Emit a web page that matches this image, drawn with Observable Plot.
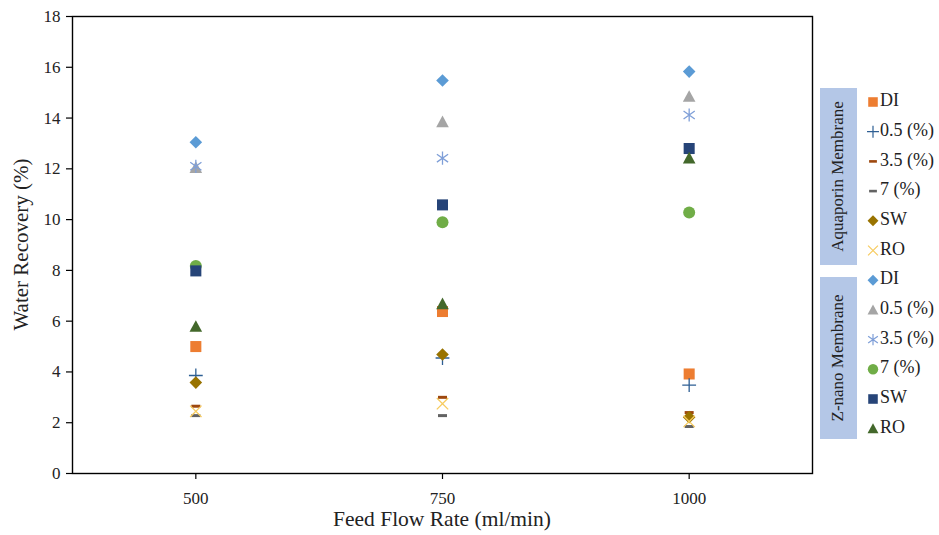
<!DOCTYPE html>
<html>
<head>
<meta charset="utf-8">
<script src="https://cdn.jsdelivr.net/npm/d3@7"></script>
<script src="https://cdn.jsdelivr.net/npm/@observablehq/plot@0.6"></script>
<style>
  html, body { margin: 0; padding: 0; background: #fff; }
  #chart { position: relative; width: 939px; height: 535px; }
  #chart svg text { font-family: 'Liberation Serif', 'Times New Roman', serif !important; }
</style>
</head>
<body>
<div id="chart"></div>
<script>
// ---- Data ----
const flowRates = [500, 750, 1000];
const xTicks = [500, 750, 1000];
const yTicks = [0, 2, 4, 6, 8, 10, 12, 14, 16, 18];

// Aquaporin Membrane
const aqDI  = [5.0, 6.38, 3.92];
const aq05  = [3.86, 4.55, 3.48];
const aq35  = [2.65, 3.0, 2.4];
const aq7   = [2.28, 2.28, 1.85];
const aqSW  = [3.58, 4.69, 2.22];
const aqRO  = [2.45, 2.75, 2.05];
// Z-nano Membrane
const znDI  = [13.05, 15.48, 15.83];
const zn05  = [12.05, 13.85, 14.85];
const zn35  = [12.1, 12.42, 14.12];
const zn7   = [8.17, 9.9, 10.28];
const znSW  = [7.98, 10.58, 12.8];
const znRO  = [5.79, 6.68, 12.42];

const seriesNames = ["DI", "0.5 (%)", "3.5 (%)", "7 (%)", "SW", "RO"];
const groupNames = ["Aquaporin Membrane", "Z-nano Membrane"];

// ---- Custom marker symbols (Excel-like) ----
function mk(fn) { return { draw(c, size) { const r = Math.sqrt(size / Math.PI); fn(c, r); } }; }
const symSquare = mk((c, r) => { const a = r * 0.92; c.moveTo(-a, -a); c.lineTo(a, -a); c.lineTo(a, a); c.lineTo(-a, a); c.closePath(); });
const symDiamond = mk((c, r) => { const a = r * 1.05; c.moveTo(0, -a); c.lineTo(a, 0); c.lineTo(0, a); c.lineTo(-a, 0); c.closePath(); });
const symCircle = mk((c, r) => { c.moveTo(r, 0); c.arc(0, 0, r, 0, 2 * Math.PI); c.closePath(); });
const symTriangle = mk((c, r) => { const a = r * 1.05; c.moveTo(0, -a); c.lineTo(a, a * 0.85); c.lineTo(-a, a * 0.85); c.closePath(); });
const symPlus = mk((c, r) => { const a = r * 1.15; c.moveTo(-a, 0); c.lineTo(a, 0); c.moveTo(0, -a); c.lineTo(0, a); });
const symTimes = mk((c, r) => { const a = r * 0.95; c.moveTo(-a, -a); c.lineTo(a, a); c.moveTo(-a, a); c.lineTo(a, -a); });
const symAsterisk = mk((c, r) => { const a = r * 1.1; c.moveTo(0, -a); c.lineTo(0, a); c.moveTo(-a * 0.85, -a * 0.6); c.lineTo(a * 0.85, a * 0.6); c.moveTo(-a * 0.85, a * 0.6); c.lineTo(a * 0.85, -a * 0.6); });
const symDash = mk((c, r) => { c.moveTo(-r * 0.75, -r * 0.25); c.lineTo(r * 0.75, -r * 0.25); c.lineTo(r * 0.75, r * 0.25); c.lineTo(-r * 0.75, r * 0.25); c.closePath(); });

// series styling (group, name index, values, symbol, color, filled)
const series = [
  { group: 0, name: 0, values: aqDI, symbol: symSquare,   color: "#ED7D31", filled: true },
  { group: 0, name: 1, values: aq05, symbol: symPlus,     color: "#2E5F94", filled: false },
  { group: 0, name: 2, values: aq35, symbol: symDash,     color: "#9E480E", filled: true },
  { group: 0, name: 3, values: aq7,  symbol: symDash,     color: "#636363", filled: true },
  { group: 0, name: 4, values: aqSW, symbol: symDiamond,  color: "#997300", filled: true },
  { group: 0, name: 5, values: aqRO, symbol: symTimes,    color: "#F7CB5E", filled: false },
  { group: 1, name: 0, values: znDI, symbol: symDiamond,  color: "#5B9BD5", filled: true },
  { group: 1, name: 1, values: zn05, symbol: symTriangle, color: "#A5A5A5", filled: true },
  { group: 1, name: 2, values: zn35, symbol: symAsterisk, color: "#7F9FD8", filled: false },
  { group: 1, name: 3, values: zn7,  symbol: symCircle,   color: "#70AD47", filled: true },
  { group: 1, name: 4, values: znSW, symbol: symSquare,   color: "#264478", filled: true },
  { group: 1, name: 5, values: znRO, symbol: symTriangle, color: "#43682B", filled: true }
];

const W = 939, H = 535;
const mL = 72, mR = 127, mT = 16, mB = 62;
const FONT = "'Liberation Serif', 'Times New Roman', serif";

const marks = [
  Plot.frame({ stroke: "#000", strokeWidth: 1.4 }),
  Plot.axisY({ ticks: yTicks, tickSize: 6, tickPadding: 6, label: null, fontSize: 17, fontFamily: FONT, tickFormat: d => String(d), stroke: "#000", color: "#222", strokeWidth: 1.2 }),
  Plot.axisX({ ticks: xTicks, tickSize: 6, tickPadding: 12, label: null, fontSize: 17, fontFamily: FONT, tickFormat: d => String(d), stroke: "#000", color: "#222", strokeWidth: 1.2 })
];
for (const s of series) {
  const rows = flowRates.map((x, i) => ({ x, y: s.values[i] }));
  marks.push(Plot.dot(rows, {
    x: "x", y: "y", r: 6, symbol: s.symbol,
    fill: s.filled ? s.color : "none",
    stroke: s.filled ? "none" : s.color,
    strokeWidth: s.filled ? 0 : 1.3
  }));
}

const svgEl = Plot.plot({
  width: W, height: H,
  marginLeft: mL, marginRight: mR, marginTop: mT, marginBottom: mB,
  style: { fontFamily: FONT, background: "#fff", color: "#222" },
  x: { type: "linear", domain: [375, 1125] },
  y: { domain: [0, 18] },
  marks
});
document.getElementById("chart").appendChild(svgEl);

// ---- Axis titles ----
const svg = d3.select(svgEl);
svg.append("text")
  .attr("transform", `translate(23,${(mT + H - mB) / 2}) rotate(-90)`)
  .attr("text-anchor", "middle").attr("dominant-baseline", "middle")
  .style("font-size", "21px").attr("fill", "#222")
  .text("Water Recovery (%)");
svg.append("text")
  .attr("x", (mL + W - mR) / 2).attr("y", 521)
  .attr("text-anchor", "middle").attr("dominant-baseline", "middle")
  .style("font-size", "21.5px").attr("fill", "#222")
  .text("Feed Flow Rate (ml/min)");

// ---- Legend ----
const leg = svg.append("g").attr("class", "legend");
const rowY0 = 102, rowStep = 29.7;
const boxes = [
  { y0: 88, y1: 265 },
  { y0: 277, y1: 439 }
];
boxes.forEach((b, gi) => {
  leg.append("rect").attr("x", 820).attr("y", b.y0).attr("width", 37).attr("height", b.y1 - b.y0).attr("fill", "#B4C7E7");
  leg.append("text")
    .attr("transform", `translate(839,${(b.y0 + b.y1) / 2}) rotate(-90)`)
    .attr("text-anchor", "middle").attr("dominant-baseline", "middle")
    .style("font-size", "17px").attr("fill", "#222")
    .text(groupNames[gi]);
});
series.forEach((s, i) => {
  const y = rowY0 + i * rowStep;
  const gen = d3.symbol().type(s.symbol).size(Math.PI * 5.2 * 5.2);
  leg.append("path")
    .attr("transform", `translate(873,${y})`)
    .attr("d", gen())
    .attr("fill", s.filled ? s.color : "none")
    .attr("stroke", s.filled ? "none" : s.color)
    .attr("stroke-width", s.filled ? 0 : 1.2);
  leg.append("text")
    .attr("x", 880).attr("y", y)
    .attr("text-anchor", "start")
    .attr("dominant-baseline", "middle")
    .style("font-size", "18px").attr("fill", "#222")
    .text(seriesNames[s.name]);
});
</script>
</body>
</html>
